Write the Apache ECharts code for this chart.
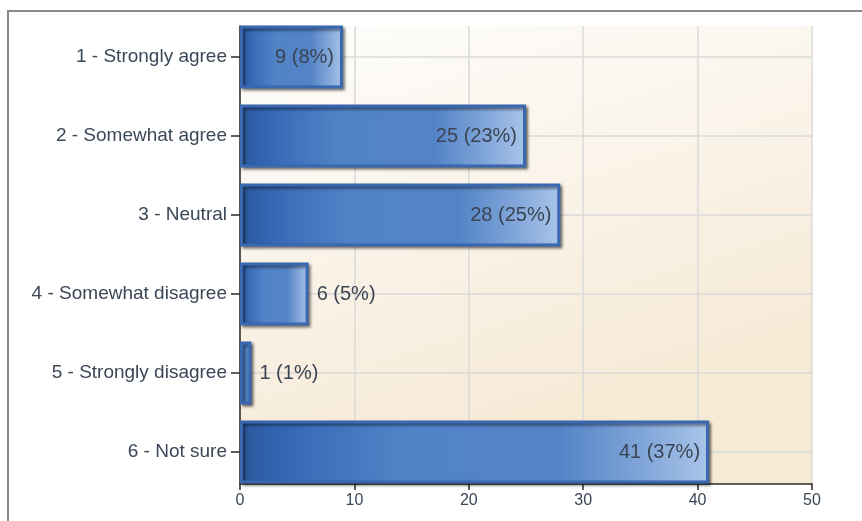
<!DOCTYPE html>
<html>
<head>
<meta charset="utf-8">
<script src="https://cdn.jsdelivr.net/npm/echarts@6/dist/echarts.min.js"></script>
<style>
html,body{margin:0;padding:0;background:#fff;}
#chart{width:862px;height:521px;}
</style>
</head>
<body>
<div id="chart"></div>
<script>
const categories = ['1 - Strongly agree', '2 - Somewhat agree', '3 - Neutral', '4 - Somewhat disagree', '5 - Strongly disagree', '6 - Not sure'];
const counts = [9, 25, 28, 6, 1, 41];
const percents = [8, 23, 25, 5, 1, 37];
const xTicks = [0, 10, 20, 30, 40, 50];

const FONT = 'Arial, "Liberation Sans", sans-serif';
const TXT = '#3b4757';

const barData = counts.map((v, i) => ({
  value: v,
  label: {
    position: v >= 9 ? 'insideRight' : 'right',
    distance: v >= 9 ? 9 : 8
  }
}));

const chart = echarts.init(document.getElementById('chart'), null, {renderer: 'canvas'});
chart.setOption({
  animation: false,
  backgroundColor: '#ffffff',
  graphic: [{
    type: 'rect',
    shape: {x: 8, y: 11, width: 900, height: 600},
    style: {fill: 'none', stroke: '#8a8a8a', lineWidth: 2},
    silent: true,
    z: 100
  }],
  grid: [
    {left: 240, right: 50, top: 17.5, height: 474, containLabel: false},
    {left: 240, right: 50, top: 26, bottom: 37, show: true, borderWidth: 0,
      backgroundColor: {
        type: 'linear', x: 0, y: 0, x2: 0.25, y2: 1,
        colorStops: [
          {offset: 0, color: '#fefefd'},
          {offset: 1, color: '#f6e9d5'}
        ]
      }
    }
  ],
  xAxis: [
    {gridIndex: 0, type: 'value', min: 0, max: 50, show: false},
    {gridIndex: 1, type: 'value', min: xTicks[0], max: xTicks[xTicks.length - 1], interval: 10,
      axisLine: {show: true, lineStyle: {color: '#2b2b2b', width: 1.5}},
      axisTick: {show: true, length: 6, lineStyle: {color: '#2b2b2b', width: 1.5}},
      axisLabel: {color: TXT, fontSize: 16, fontFamily: FONT, margin: 9},
      splitLine: {show: true, lineStyle: {color: '#dadada', width: 1.5}}
    }
  ],
  yAxis: [
    {gridIndex: 0, type: 'category', data: categories, inverse: true,
      axisLine: {show: false},
      axisTick: {show: true, alignWithLabel: true, length: 9, lineStyle: {color: '#2b2b2b', width: 1.5}},
      axisLabel: {color: TXT, fontSize: 19, fontFamily: FONT, margin: 13},
      splitLine: {show: false}
    },
    {gridIndex: 1, type: 'value', min: 0, max: 1,
      axisLine: {show: true, lineStyle: {color: '#2b2b2b', width: 1.5}},
      axisTick: {show: false}, axisLabel: {show: false}, splitLine: {show: false}
    }
  ],
  series: [{
    type: 'bar',
    xAxisIndex: 0,
    yAxisIndex: 0,
    data: barData,
    barCategoryGap: '20%',
    z: 3,
    itemStyle: {
      color: {
        type: 'linear', x: 0, y: 0, x2: 1, y2: 0,
        colorStops: [
          {offset: 0, color: '#2c5797'},
          {offset: 0.06, color: '#2f62ad'},
          {offset: 0.14, color: '#3a6db8'},
          {offset: 0.35, color: '#5183c7'},
          {offset: 0.68, color: '#5384c7'},
          {offset: 0.85, color: '#7fa4d8'},
          {offset: 1, color: '#a9c5ea'}
        ]
      },
      borderColor: '#3a68b0',
      borderWidth: 3,
      shadowColor: 'rgba(0,0,0,0.5)',
      shadowBlur: 3,
      shadowOffsetX: 2,
      shadowOffsetY: 2
    },
    label: {
      show: true,
      color: '#3a4452',
      fontSize: 20,
      fontFamily: FONT,
      formatter: p => p.value + ' (' + percents[p.dataIndex] + '%)'
    },
    markLine: {
      silent: true,
      symbol: 'none',
      z: 1,
      label: {show: false},
      lineStyle: {color: '#dadada', width: 1.5, type: 'solid'},
      data: categories.map(c => ({yAxis: c}))
    }
  }]
});
</script>
</body>
</html>
